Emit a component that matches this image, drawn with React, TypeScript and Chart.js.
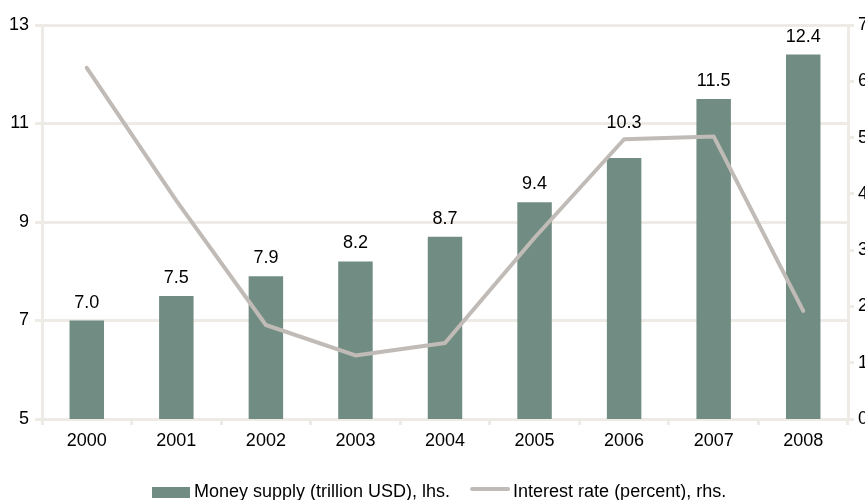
import React, { useEffect, useRef } from "react";
import { Chart, registerables } from "chart.js";

Chart.register(...registerables);

const years = ["2000", "2001", "2002", "2003", "2004", "2005", "2006", "2007", "2008"];
const moneySupply = [7.0, 7.5, 7.9, 8.2, 8.7, 9.4, 10.3, 11.5, 12.4];
const interestRate = [6.24, 3.88, 1.67, 1.13, 1.35, 3.22, 4.97, 5.02, 1.92];
const barLabel = "Money supply (trillion USD), lhs.";
const lineLabel = "Interest rate (percent), rhs.";

const BAR_COLOR = "#718C82";
const LINE_COLOR = "#C0BBB6";
const GRID_COLOR = "#EEEAE5";
const FONT = "Liberation Sans";
const FONT_SIZE = 18;

const barValueLabels = {
  id: "barValueLabels",
  afterDatasetsDraw(chart: any) {
    const meta = chart.getDatasetMeta(0);
    const lineMeta = chart.getDatasetMeta(1);
    const ctx = chart.ctx;
    ctx.save();
    ctx.font = `${FONT_SIZE}px "${FONT}"`;
    ctx.fillStyle = "#000";
    ctx.textAlign = "center";
    ctx.textBaseline = "alphabetic";
    meta.data.forEach((el: any, i: number) => {
      let baseline = el.y - 13;
      const lineY = lineMeta.data[i] ? lineMeta.data[i].y : -1000;
      // keep the label clear of the interest-rate line
      if (lineY > baseline - 17 && lineY < baseline + 6) {
        baseline = lineY - 11;
      }
      ctx.fillText(moneySupply[i].toFixed(1), el.x, baseline);
    });
    ctx.restore();
  },
};

const customLegend = {
  id: "customLegend",
  afterDraw(chart: any) {
    const ctx = chart.ctx;
    const area = chart.chartArea;
    const baseline = area.bottom + 78;
    let x = area.left + 110;
    ctx.save();
    ctx.font = `${FONT_SIZE}px "${FONT}"`;
    ctx.textAlign = "left";
    ctx.textBaseline = "alphabetic";
    ctx.fillStyle = BAR_COLOR;
    ctx.fillRect(x, baseline - 10, 38, 11);
    x += 38 + 4;
    ctx.fillStyle = "#000";
    ctx.fillText(barLabel, x, baseline);
    x += ctx.measureText(barLabel).width + 22;
    ctx.strokeStyle = LINE_COLOR;
    ctx.lineWidth = 4;
    ctx.lineCap = "round";
    ctx.beginPath();
    ctx.moveTo(x, baseline - 8);
    ctx.lineTo(x + 36, baseline - 8);
    ctx.stroke();
    x += 36 + 5;
    ctx.fillText(lineLabel, x, baseline);
    ctx.restore();
  },
};

export default function App() {
  const ref = useRef<HTMLCanvasElement | null>(null);

  useEffect(() => {
    if (!ref.current) return;
    const tickFont = { size: FONT_SIZE, family: FONT };
    const chart = new Chart(ref.current, {
      type: "bar",
      data: {
        labels: years,
        datasets: [
          {
            type: "bar",
            label: barLabel,
            data: moneySupply,
            backgroundColor: BAR_COLOR,
            borderWidth: 0,
            yAxisID: "y",
            order: 1,
            categoryPercentage: 1,
            barPercentage: 0.385,
          } as any,
          {
            type: "line",
            label: lineLabel,
            data: interestRate,
            borderColor: LINE_COLOR,
            backgroundColor: LINE_COLOR,
            borderWidth: 4,
            borderCapStyle: "round",
            borderJoinStyle: "round",
            pointRadius: 0,
            tension: 0,
            yAxisID: "y1",
            order: 0,
          } as any,
        ],
      },
      options: {
        responsive: false,
        animation: false,
        layout: { padding: { top: 25, left: 0, right: 0, bottom: 36 } },
        scales: {
          x: {
            offset: true,
            grid: {
              offset: true,
              drawOnChartArea: false,
              drawTicks: true,
              tickLength: 6,
              color: GRID_COLOR,
              lineWidth: 3,
            },
            border: { color: GRID_COLOR, width: 3 },
            ticks: { padding: 5, color: "#000", font: tickFont },
            afterFit(scale: any) {
              scale.height = 45;
            },
          },
          y: {
            position: "left",
            min: 5,
            max: 13,
            ticks: { stepSize: 2, padding: 6, color: "#000", font: tickFont },
            grid: { color: GRID_COLOR, lineWidth: 3, tickLength: 7 },
            border: { color: GRID_COLOR, width: 3 },
            afterFit(scale: any) {
              scale.width = 42;
            },
          },
          y1: {
            position: "right",
            min: 0,
            max: 7,
            ticks: { stepSize: 1, padding: 4, color: "#000", font: tickFont },
            grid: { drawOnChartArea: false, color: GRID_COLOR, lineWidth: 3, tickLength: 6 },
            border: { color: GRID_COLOR, width: 3 },
            afterFit(scale: any) {
              scale.width = 17;
            },
          },
        },
        plugins: {
          tooltip: { enabled: false },
          legend: { display: false },
        },
      },
      plugins: [barValueLabels, customLegend],
    });
    return () => chart.destroy();
  }, []);

  return (
    <div style={{ height: 484 }}>
      <div
        style={{
          position: "fixed",
          left: 0,
          top: 0,
          width: 865,
          height: 500,
          overflow: "hidden",
          background: "#fff",
        }}
      >
        <canvas ref={ref} width={865} height={500} style={{ display: "block" }} />
      </div>
    </div>
  );
}
